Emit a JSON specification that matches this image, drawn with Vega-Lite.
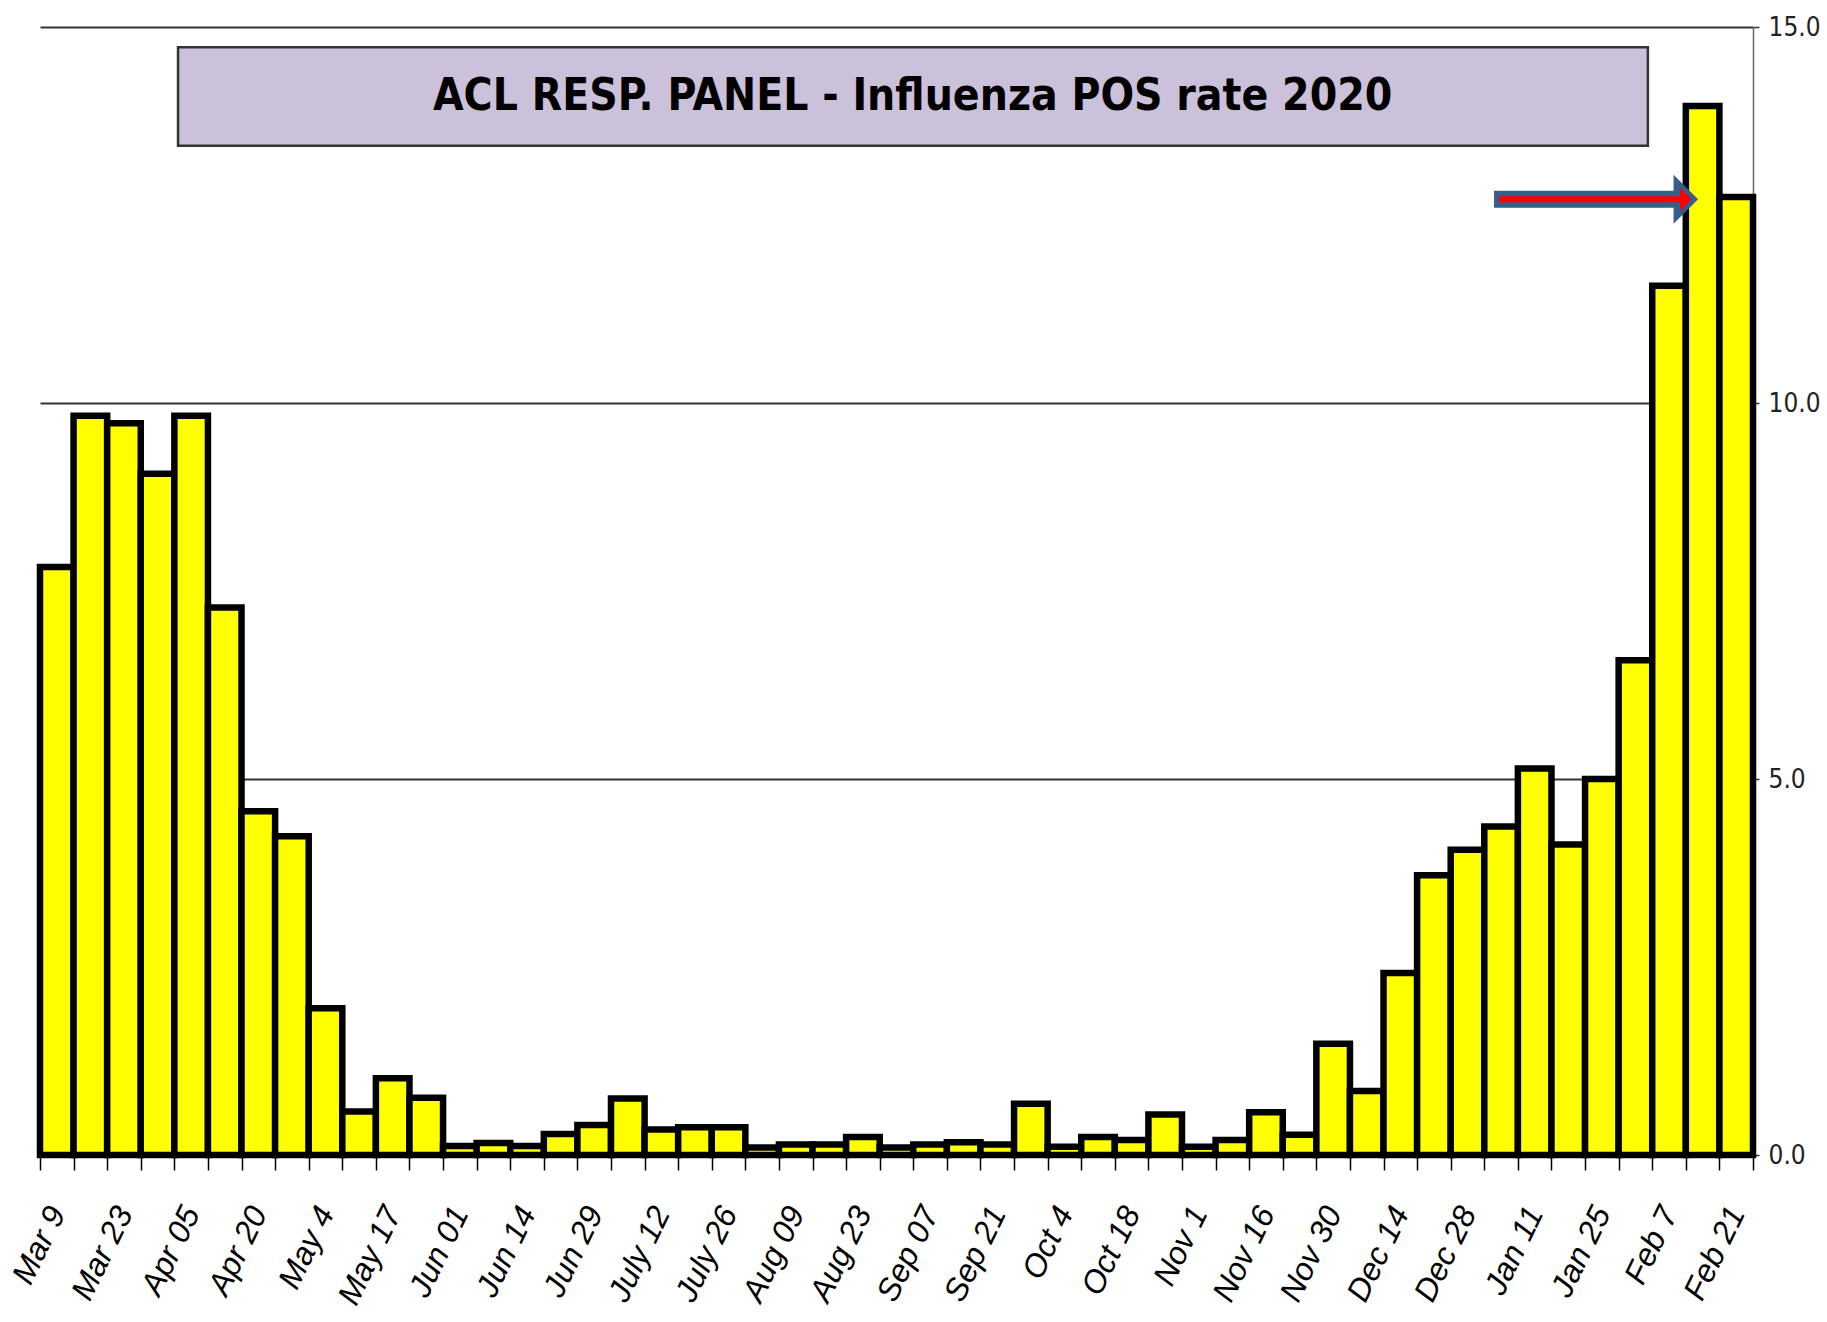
{
  "$schema": "https://vega.github.io/schema/vega-lite/v6.json",
  "width": 1713,
  "height": 1128,
  "autosize": {"type": "none"},
  "padding": {"left": 40, "top": 27, "right": 74, "bottom": 167},
  "background": "white",
  "config": {"view": {"stroke": null}},
  "layer": [
    {
      "data": {"values": [
        {"week": "Mar 9", "rate": 7.82},
        {"week": "Mar 16", "rate": 9.83},
        {"week": "Mar 23", "rate": 9.73},
        {"week": "Mar 30", "rate": 9.06},
        {"week": "Apr 05", "rate": 9.83},
        {"week": "Apr 12", "rate": 7.28},
        {"week": "Apr 20", "rate": 4.57},
        {"week": "Apr 27", "rate": 4.24},
        {"week": "May 4", "rate": 1.95},
        {"week": "May 11", "rate": 0.58},
        {"week": "May 17", "rate": 1.02},
        {"week": "May 24", "rate": 0.76},
        {"week": "Jun 01", "rate": 0.12},
        {"week": "Jun 07", "rate": 0.16},
        {"week": "Jun 14", "rate": 0.12},
        {"week": "Jun 21", "rate": 0.28},
        {"week": "Jun 29", "rate": 0.40},
        {"week": "July 05", "rate": 0.75},
        {"week": "July 12", "rate": 0.34},
        {"week": "July 19", "rate": 0.37},
        {"week": "July 26", "rate": 0.37},
        {"week": "Aug 02", "rate": 0.10},
        {"week": "Aug 09", "rate": 0.14},
        {"week": "Aug 16", "rate": 0.14},
        {"week": "Aug 23", "rate": 0.24},
        {"week": "Aug 30", "rate": 0.10},
        {"week": "Sep 07", "rate": 0.14},
        {"week": "Sep 14", "rate": 0.17},
        {"week": "Sep 21", "rate": 0.14},
        {"week": "Sep 27", "rate": 0.68},
        {"week": "Oct 4", "rate": 0.11},
        {"week": "Oct 11", "rate": 0.24},
        {"week": "Oct 18", "rate": 0.20},
        {"week": "Oct 25", "rate": 0.54},
        {"week": "Nov 1", "rate": 0.11},
        {"week": "Nov 8", "rate": 0.20},
        {"week": "Nov 16", "rate": 0.57},
        {"week": "Nov 23", "rate": 0.27},
        {"week": "Nov 30", "rate": 1.48},
        {"week": "Dec 7", "rate": 0.85},
        {"week": "Dec 14", "rate": 2.42},
        {"week": "Dec 21", "rate": 3.72},
        {"week": "Dec 28", "rate": 4.06},
        {"week": "Jan 4", "rate": 4.37},
        {"week": "Jan 11", "rate": 5.14},
        {"week": "Jan 18", "rate": 4.13},
        {"week": "Jan 25", "rate": 5.00},
        {"week": "Feb 1", "rate": 6.58},
        {"week": "Feb 7", "rate": 11.56},
        {"week": "Feb 14", "rate": 13.95},
        {"week": "Feb 21", "rate": 12.74}
      ]},
      "mark": {"type": "bar", "fill": "#FFFF00", "stroke": "black", "strokeWidth": 6.5, "strokeJoin": "miter"},
      "encoding": {
        "x": {
          "field": "week", "type": "nominal", "sort": null,
          "scale": {"paddingInner": 0, "paddingOuter": 0},
          "axis": {
            "title": null, "tickBand": "extent",
            "labelExpr": "round(datum.index*50) % 2 == 0 ? datum.label : ''",
            "labelAngle": -64, "labelAlign": "right", "labelBaseline": "middle",
            "labelFont": "Liberation Sans, Arial, sans-serif", "labelFontStyle": "italic", "labelFontSize": 32,
            "labelColor": "black", "labelPadding": 38, "labelOverlap": false, "labelBound": false, "labelFlush": false,
            "tickColor": "black", "tickSize": 15, "tickWidth": 1.5,
            "domainColor": "black", "domainWidth": 3, "grid": false
          }
        },
        "y": {
          "field": "rate", "type": "quantitative",
          "scale": {"domain": [0, 15], "nice": false},
          "axis": {
            "orient": "right", "values": [0, 5, 10, 15], "format": ".1f", "title": null,
            "grid": true, "gridColor": "#333", "gridWidth": 2,
            "domainColor": "#666", "domainWidth": 1.5,
            "tickColor": "#333", "tickSize": 6, "tickWidth": 1.5,
            "labelFont": "DejaVu Sans Condensed, Liberation Sans, sans-serif", "labelFontSize": 26, "labelColor": "#222", "labelPadding": 9
          }
        }
      }
    },
    {
      "data": {"values": [{}]},
      "mark": {"type": "rect", "fill": "#CCC1DA", "stroke": "#333", "strokeWidth": 2.5},
      "encoding": {
        "x": {"datum": 4.11, "type": "quantitative", "scale": {"domain": [0, 51]}, "axis": null},
        "x2": {"datum": 47.87},
        "y": {"datum": 14.73, "type": "quantitative"},
        "y2": {"datum": 13.42}
      }
    },
    {
      "data": {"values": [{"title": "ACL RESP. PANEL -  Influenza POS rate  2020"}]},
      "mark": {"type": "text", "font": "DejaVu Sans Condensed, Liberation Sans, sans-serif", "fontWeight": "bold", "fontSize": 44, "color": "black", "align": "center", "baseline": "middle"},
      "encoding": {
        "x": {"datum": 25.98, "type": "quantitative", "scale": {"domain": [0, 51]}, "axis": null},
        "y": {"datum": 14.07, "type": "quantitative"},
        "text": {"field": "title"}
      }
    },
    {
      "data": {"values": [{}]},
      "mark": {"type": "rule", "color": "#385D8A", "strokeWidth": 17, "strokeCap": "butt"},
      "encoding": {
        "x": {"datum": 43.29, "type": "quantitative", "scale": {"domain": [0, 51]}, "axis": null},
        "x2": {"datum": 48.75},
        "y": {"datum": 12.71, "type": "quantitative"}
      }
    },
    {
      "data": {"values": [{}]},
      "mark": {"type": "point", "filled": true, "shape": "M-0.5,-1L0.5,0L-0.5,1Z", "size": 2401, "color": "#385D8A", "opacity": 1},
      "encoding": {
        "x": {"datum": 49.0, "type": "quantitative", "scale": {"domain": [0, 51]}, "axis": null},
        "y": {"datum": 12.71, "type": "quantitative"}
      }
    },
    {
      "data": {"values": [{}]},
      "mark": {"type": "rule", "color": "#FF0000", "strokeWidth": 6, "strokeCap": "butt"},
      "encoding": {
        "x": {"datum": 43.44, "type": "quantitative", "scale": {"domain": [0, 51]}, "axis": null},
        "x2": {"datum": 48.85},
        "y": {"datum": 12.71, "type": "quantitative"}
      }
    },
    {
      "data": {"values": [{}]},
      "mark": {"type": "point", "filled": true, "shape": "M-0.5,-1L0.5,0L-0.5,1Z", "size": 529, "color": "#FF0000", "opacity": 1},
      "encoding": {
        "x": {"datum": 49.0, "type": "quantitative", "scale": {"domain": [0, 51]}, "axis": null},
        "y": {"datum": 12.71, "type": "quantitative"}
      }
    }
  ],
  "resolve": {"scale": {"x": "independent"}}
}
